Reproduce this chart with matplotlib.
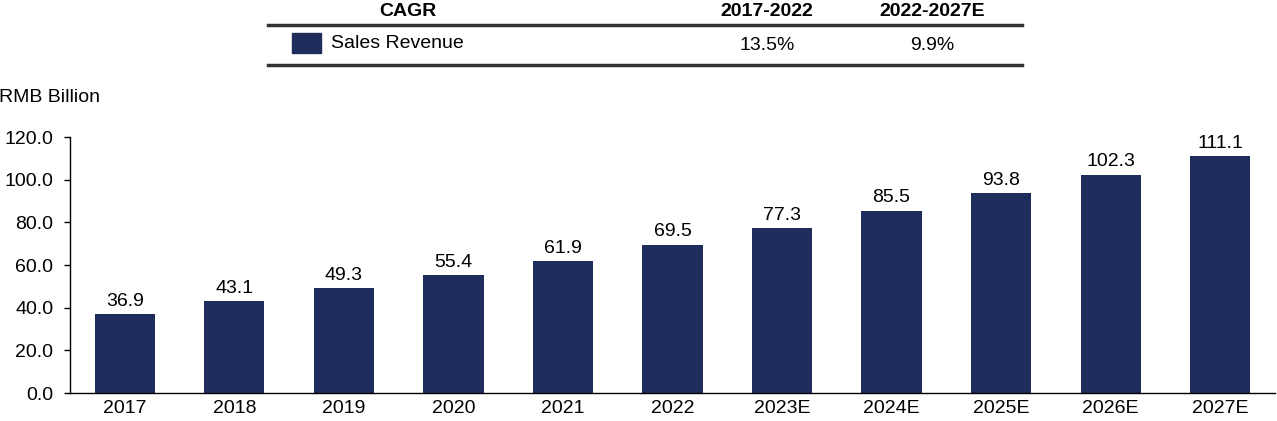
import matplotlib.pyplot as plt
from matplotlib.patches import Rectangle
from matplotlib.lines import Line2D

plt.rcParams['font.family'] = ['Liberation Sans', 'DejaVu Sans']

# Data
years = ['2017', '2018', '2019', '2020', '2021', '2022',
         '2023E', '2024E', '2025E', '2026E', '2027E']
revenue = [36.9, 43.1, 49.3, 55.4, 61.9, 69.5, 77.3, 85.5, 93.8, 102.3, 111.1]
yticks = [0, 20, 40, 60, 80, 100, 120]
cagr_headers = ['CAGR', '2017-2022', '2022-2027E']
cagr_series = 'Sales Revenue'
cagr_values = ['13.5%', '9.9%']

bar_color = '#1f2d5c'
fs = 14
W, H = 1277, 421

fig = plt.figure(figsize=(W / 100, H / 100), dpi=100)
ax = fig.add_axes([70 / W, 28 / H, (1275 - 70) / W, (393 - 137) / H])

x = range(len(years))
ax.bar(x, revenue, width=0.55, color=bar_color)
for i, v in zip(x, revenue):
    ax.text(i, v + 2, f'{v:.1f}', ha='center', va='bottom', fontsize=fs)

ax.set_xlim(-0.5, len(years) - 0.5)
ax.set_ylim(0, 120)
ax.set_yticks(yticks)
ax.set_yticklabels([f'{t:.1f}' for t in yticks], fontsize=fs)
ax.set_xticks(list(x))
ax.set_xticklabels(years, fontsize=fs)
ax.tick_params(axis='x', length=0, pad=5)
ax.tick_params(axis='y', length=4, width=1, pad=8)
for s in ['top', 'right']:
    ax.spines[s].set_visible(False)
ax.spines['left'].set_linewidth(1)
ax.spines['bottom'].set_linewidth(1)

fig.text(-1 / W, 1 - 97 / H, 'RMB Billion', fontsize=fs, ha='left', va='center')

# CAGR table at the top
def fy(py):
    return 1 - py / H

fig.text(408 / W, fy(11), cagr_headers[0], fontsize=fs, fontweight='bold', ha='center', va='center')
fig.text(767 / W, fy(11), cagr_headers[1], fontsize=fs, fontweight='bold', ha='center', va='center')
fig.text(932 / W, fy(11), cagr_headers[2], fontsize=fs, fontweight='bold', ha='center', va='center')

for py in [25, 65]:
    fig.add_artist(Line2D([268 / W, 1022 / W], [fy(py), fy(py)], color='#333333', linewidth=2.5))

fig.add_artist(Rectangle((292 / W, fy(53)), 29 / W, 20 / H, color=bar_color, transform=fig.transFigure))
fig.text(331 / W, fy(44), cagr_series, fontsize=fs, ha='left', va='center')
fig.text(767 / W, fy(45), cagr_values[0], fontsize=fs, ha='center', va='center')
fig.text(932 / W, fy(45), cagr_values[1], fontsize=fs, ha='center', va='center')

fig.savefig('out.png', dpi=100)
